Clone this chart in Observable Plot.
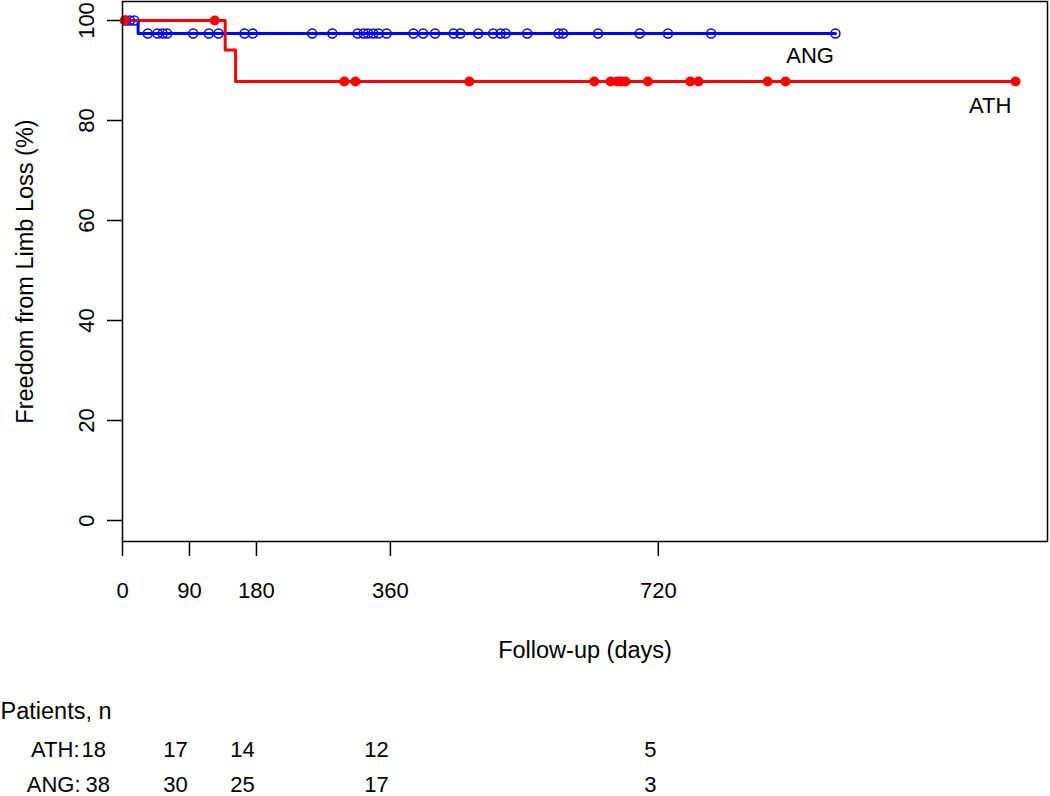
<!DOCTYPE html>
<html><head><meta charset="utf-8">
<script src="https://cdn.jsdelivr.net/npm/d3@7"></script>
<script src="https://cdn.jsdelivr.net/npm/@observablehq/plot@0.6"></script>
<style>html,body{margin:0;padding:0;background:#fff} #chart svg{display:block}</style>
</head><body><div id="chart"></div>
<script>
// Kaplan-Meier step values
const athStepDays = [0, 138, 152, 1200];
const athStepPct  = [100, 94.1, 87.8, 87.8];
const angStepDays = [0, 21, 958];
const angStepPct  = [100, 97.4, 97.4];
// censored observations (days)
const athCensorDays = [3, 124, 298, 313, 466, 634, 656, 665, 670, 676, 706, 763, 774, 867, 891, 1200];
const angCensorDays = [4, 10, 16, 34, 47, 54, 60, 95, 116, 129, 164, 175, 255, 282, 316, 324, 330, 337, 344, 355,
  391, 404, 420, 445, 454, 478, 498, 508, 515, 544, 586, 592, 639, 695, 733, 791, 958];
// axes
const xTicks = [0, 90, 180, 360, 720];
const yTicks = [0, 20, 40, 60, 80, 100];
// numbers at risk
const riskDays = [0, 90, 180, 360, 720];
const atRiskATH = [18, 17, 14, 12, 5];
const atRiskANG = [38, 30, 25, 17, 3];
// curve labels
const curveLabels = ["ANG", "ATH"];
const curveLabelDays = [924, 1166];
const curveLabelPct = [93, 83];

const stepRows = (days, pct) => days.map((d, i) => ({day: d, pct: pct[i]}));
const lookup = (days, pct, t) => { let v = pct[0]; for (let i = 0; i < days.length; i++) if (days[i] <= t) v = pct[i]; return v; };
const athCens = athCensorDays.map(d => ({day: d, pct: lookup(athStepDays, athStepPct, d)}));
const angCens = angCensorDays.map(d => ({day: d, pct: lookup(angStepDays, angStepPct, d)}));
const labels = curveLabels.map((t, i) => ({text: t, day: curveLabelDays[i], pct: curveLabelPct[i]}));
const riskATH = riskDays.map((d, i) => ({day: d, n: atRiskATH[i]}));
const riskANG = riskDays.map((d, i) => ({day: d, n: atRiskANG[i]}));

const FS = 22, TS = 23.5;
const rowText = (rows, dx, dy, anchor) => Plot.text(rows, {x: "day", text: "n", frameAnchor: "bottom", dx, dy, textAnchor: anchor, lineAnchor: "bottom", fontSize: FS});
const chart = Plot.plot({
  width: 1050, height: 796,
  marginLeft: 122, marginRight: 3, marginTop: 1, marginBottom: 255,
  x: {domain: [0, 1243]},
  y: {domain: [-4.2, 103.8]},
  style: {fontFamily: "'Liberation Sans', Arial, sans-serif", fontSize: FS + "px", background: "#fff", color: "#000"},
  marks: [
    Plot.axisX({ticks: xTicks, tickSize: 15, tickPadding: 26, label: null, strokeWidth: 1.5, fontSize: FS}),
    Plot.axisY({ticks: yTicks, tickSize: 15, tickFormat: () => "", label: null, strokeWidth: 1.5}),
    Plot.text(yTicks, {y: d => d, text: d => String(d), frameAnchor: "left", dx: -29, rotate: -90,
      textAnchor: "middle", lineAnchor: "bottom", fontSize: FS}),
    Plot.text(["Freedom from Limb Loss (%)"], {frameAnchor: "left", dx: -90, rotate: -90,
      textAnchor: "middle", lineAnchor: "bottom", fontSize: TS}),
    Plot.text(["Follow-up (days)"], {frameAnchor: "bottom", dy: 116, lineAnchor: "bottom", fontSize: TS}),
    Plot.line(stepRows(angStepDays, angStepPct), {x: "day", y: "pct", curve: "step-after", stroke: "#0000ff", strokeWidth: 3}),
    Plot.line(stepRows(athStepDays, athStepPct), {x: "day", y: "pct", curve: "step-after", stroke: "#ff0000", strokeWidth: 3}),
    Plot.dot(angCens, {x: "day", y: "pct", r: 4.5, stroke: "#0000ff", fill: "none", strokeWidth: 1.5}),
    Plot.dot(athCens, {x: "day", y: "pct", r: 5, fill: "#ff0000", stroke: "none"}),
    Plot.text(labels, {x: "day", y: "pct", text: "text", fontSize: FS, lineAnchor: "middle"}),
    Plot.frame({stroke: "#000", strokeWidth: 1.5}),
    // numbers at risk table
    Plot.text(["Patients, n"], {frameAnchor: "bottom-left", dx: -122, dy: 177, textAnchor: "start", lineAnchor: "bottom", fontSize: TS}),
    Plot.text(["ATH:"], {frameAnchor: "bottom-left", dx: -43, dy: 215, textAnchor: "end", lineAnchor: "bottom", fontSize: FS}),
    Plot.text(["ANG:"], {frameAnchor: "bottom-left", dx: -42, dy: 250, textAnchor: "end", lineAnchor: "bottom", fontSize: FS}),
    rowText(riskATH.slice(0, 1), -41, 215, "start"),
    rowText(riskANG.slice(0, 1), -37, 250, "start"),
    rowText(riskATH.slice(1, 4), -14, 215, "middle"),
    rowText(riskANG.slice(1, 4), -14, 250, "middle"),
    rowText(riskATH.slice(4), -8, 215, "middle"),
    rowText(riskANG.slice(4), -8, 250, "middle")
  ]
});
document.getElementById("chart").appendChild(chart);
</script>
</body></html>
